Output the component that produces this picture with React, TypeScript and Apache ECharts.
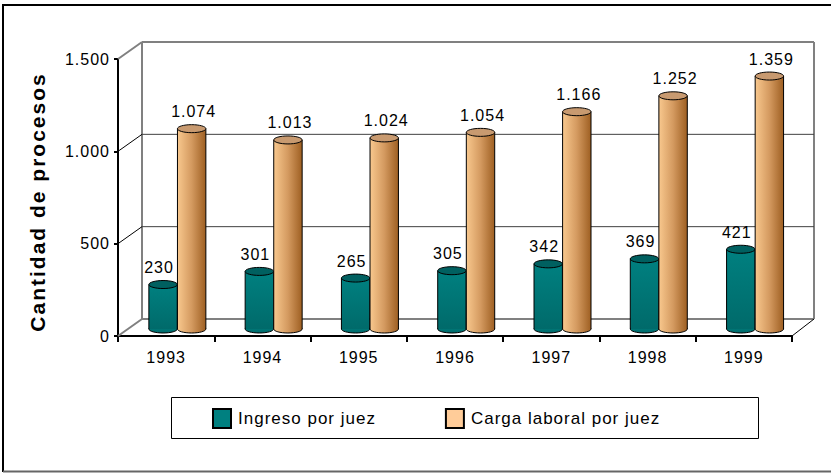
import React, { useEffect, useRef } from "react";
import * as echarts from "echarts";

const categories = ["1993", "1994", "1995", "1996", "1997", "1998", "1999"];
const ingreso = [230, 301, 265, 305, 342, 369, 421];
const carga = [1074, 1013, 1024, 1054, 1166, 1252, 1359];
const wallTicks = [0, 500, 1000, 1500];

const FONT = '"Liberation Sans", Arial, sans-serif';
const DX = 24;
const DY = -17;
const BASE_LIFT = 9;

const fmt = (v: number) => String(v).replace(/\B(?=(\d{3})+$)/g, ".");

function cylinder(offset: number, labelShift: number, body: any, topFill: string) {
  return (params: any, api: any) => {
    const i = api.value(0);
    const v = api.value(1);
    const [cx0, y0] = api.coord([i, 0]);
    const [, y1] = api.coord([i, v]);
    const band = api.size([1, 0])[0];
    const w = band * 0.295;
    const cx = cx0 + band * offset;
    const yb = y0 - BASE_LIFT + 2;
    const yt = y1 - BASE_LIFT;
    const rx = w / 2;
    const ry = 4;
    const line = { stroke: "#000", lineWidth: 1 };
    return {
      type: "group",
      children: [
        { type: "ellipse", shape: { cx, cy: yb, rx, ry: 4 }, style: { fill: body, ...line } },
        { type: "rect", shape: { x: cx - rx, y: yt, width: w, height: yb - yt }, style: { fill: body } },
        { type: "line", shape: { x1: cx - rx, y1: yt, x2: cx - rx, y2: yb }, style: line },
        { type: "line", shape: { x1: cx + rx, y1: yt, x2: cx + rx, y2: yb }, style: line },
        { type: "ellipse", shape: { cx, cy: yt, rx, ry }, style: { fill: topFill, ...line } },
        {
          type: "text",
          style: {
            text: fmt(v),
            x: cx + labelShift,
            y: yt - 17,
            align: "center",
            verticalAlign: "middle",
            font: `16px ${FONT}`,
            fill: "#000",
          },
        },
      ],
    };
  };
}

function walls(params: any, api: any) {
  const v = api.value(1);
  const y = api.coord([0, v])[1];
  const rect = params.coordSys;
  const xl = rect.x;
  const xr = rect.x + rect.width;
  const edge = v === 0 || v === 1500;
  const stroke = edge ? "#808080" : "#404040";
  const lineWidth = edge ? 2 : 1;
  const children: any[] = [
    { type: "line", shape: { x1: xl, y1: y, x2: xl + DX, y2: y + DY }, style: { stroke: v === 500 || v === 1000 ? "#000" : "#808080", lineWidth } },
    { type: "line", shape: { x1: xl + DX, y1: y + DY, x2: xr + DX - 2, y2: y + DY }, style: { stroke, lineWidth } },
  ];
  if (v === 0) {
    const top = rect.y + DY;
    children.push(
      { type: "line", shape: { x1: xl + DX, y1: top, x2: xl + DX, y2: y + DY }, style: { stroke: "#808080", lineWidth: 2 } },
      { type: "line", shape: { x1: xr + DX - 2, y1: top, x2: xr + DX - 2, y2: y + DY }, style: { stroke: "#808080", lineWidth: 2 } },
      { type: "line", shape: { x1: xr, y1: y, x2: xr + DX - 2, y2: y + DY }, style: { stroke: "#000", lineWidth: 1 } },
    );
  }
  return { type: "group", children };
}

export default function App() {
  const ref = useRef<HTMLDivElement>(null);
  useEffect(() => {
    document.body.style.margin = "0";
    const chart = echarts.init(ref.current!, null, { renderer: "svg" });
    const orange = new echarts.graphic.LinearGradient(0, 0, 1, 0, [
      { offset: 0, color: "#F8C88E" },
      { offset: 0.5, color: "#D49A60" },
      { offset: 1, color: "#9E5F22" },
    ]);
    const teal = new echarts.graphic.LinearGradient(0, 0, 0, 1, [
      { offset: 0, color: "#008080" },
      { offset: 1, color: "#006A6A" },
    ]);
    chart.setOption({
      animation: false,
      backgroundColor: "#fff",
      textStyle: { fontFamily: FONT },
      graphic: [
        { type: "line", z: -10, shape: { x1: 3, y1: 5, x2: 831, y2: 5 }, style: { stroke: "#000", lineWidth: 2 } },
        { type: "line", z: -10, shape: { x1: 3, y1: 4, x2: 3, y2: 472 }, style: { stroke: "#000", lineWidth: 2 } },
        { type: "line", z: -10, shape: { x1: 3, y1: 471.5, x2: 831, y2: 471.5 }, style: { stroke: "#666", lineWidth: 2 } },
        { type: "rect", z: -10, shape: { x: 171.5, y: 397.5, width: 587, height: 41 }, style: { fill: "#fff", stroke: "#000", lineWidth: 1 } },
      ],
      grid: { left: 118, right: 39, top: 59, bottom: 137 },
      legend: {
        left: 212,
        top: 408,
        padding: 0,
        itemWidth: 18,
        itemHeight: 19,
        itemGap: 85,
        selectedMode: false,
        icon: "rect",
        data: [
          { name: "Ingreso por juez", itemStyle: { color: "#008080", borderColor: "#000", borderWidth: 2 } },
          { name: "Carga laboral por juez", itemStyle: { color: "#FFCC99", borderColor: "#000", borderWidth: 2 } },
        ],
        textStyle: { fontSize: 17, color: "#000", fontFamily: FONT, padding: [0, 0, 0, 2] },
      },
      xAxis: {
        type: "category",
        data: categories,
        boundaryGap: true,
        axisLine: { lineStyle: { color: "#000", width: 2 } },
        axisTick: { show: true, length: 6, lineStyle: { color: "#000", width: 2 } },
        axisLabel: { fontSize: 16, color: "#000", margin: 13, fontFamily: FONT },
      },
      yAxis: {
        type: "value",
        min: 0,
        max: 1500,
        interval: 500,
        name: "Cantidad de procesos",
        nameLocation: "middle",
        nameGap: 70,
        nameTextStyle: { fontSize: 21, fontWeight: "bold", color: "#000", fontFamily: FONT, padding: [0, 9, 0, 0] },
        splitLine: { show: false },
        axisLine: { show: true, lineStyle: { color: "#000", width: 2 } },
        axisTick: { show: true, length: 4, lineStyle: { color: "#000", width: 2 } },
        axisLabel: {
          fontSize: 16,
          color: "#000",
          margin: 8,
          fontFamily: FONT,
          padding: [0, 0, 8, 0],
          formatter: (v: number) => fmt(v),
        },
      },
      series: [
        {
          name: "walls",
          type: "custom",
          z: 1,
          clip: false,
          silent: true,
          renderItem: walls,
          data: wallTicks.map((t) => [0, t]),
          encode: { x: 0, y: 1 },
        },
        {
          name: "Ingreso por juez",
          type: "custom",
          z: 3,
          clip: false,
          itemStyle: { color: "#008080" },
          renderItem: cylinder(-0.032, -4, teal, "#006060"),
          data: ingreso.map((v, i) => [i, v]),
          encode: { x: 0, y: 1 },
        },
        {
          name: "Carga laboral por juez",
          type: "custom",
          z: 4,
          clip: false,
          itemStyle: { color: "#FFCC99" },
          renderItem: cylinder(0.265, 2, orange, "#C89A70"),
          data: carga.map((v, i) => [i, v]),
          encode: { x: 0, y: 1 },
        },
      ],
    });
    return () => chart.dispose();
  }, []);
  return (
    <div ref={ref} style={{ position: "fixed", left: 0, top: 0, width: 831, height: 473, letterSpacing: "1px" }}>
      <style>{`text[style*="bold"]{letter-spacing:2px}`}</style>
    </div>
  );
}
